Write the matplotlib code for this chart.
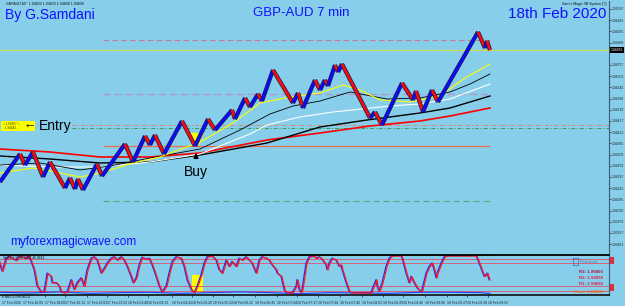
#!/usr/bin/env python3
import numpy as np
import matplotlib
matplotlib.use('Agg')
import matplotlib.pyplot as plt
import matplotlib.patheffects as pe
from matplotlib.patches import Rectangle, Polygon

# Renko closes (turning points) against bar number
renko_bars = [0, 20, 25, 33, 43, 50, 65, 70, 75, 78, 83, 97, 102, 125, 133, 145,
              150, 155, 164, 182, 195, 208, 215, 232, 235, 245, 250, 258, 262,
              273, 293, 298, 303, 315, 320, 325, 328, 335, 338, 342, 370, 375,
              382, 402, 413, 416, 423, 432, 438, 478, 485, 487, 490]
renko_close = [1.94172, 1.94312, 1.94257, 1.94322, 1.94197, 1.94272, 1.94142,
               1.94192, 1.94137, 1.94187, 1.94132, 1.94262, 1.94202, 1.94362,
               1.94272, 1.94402, 1.94357, 1.94407, 1.94312, 1.94477, 1.94352,
               1.94487, 1.94432, 1.94532, 1.94487, 1.94592, 1.94547, 1.94612,
               1.94577, 1.94732, 1.94567, 1.94617, 1.94542, 1.94682, 1.94632,
               1.94682, 1.94652, 1.94757, 1.94722, 1.94762, 1.94492, 1.94522,
               1.94457, 1.94667, 1.94582, 1.94627, 1.94522, 1.94632, 1.94572,
               1.94922, 1.94842, 1.94877, 1.94832]

# Moving averages
ma1_bars = [0, 33, 50, 80, 100, 133, 160, 200, 233, 260, 290, 320, 343, 360,
            380, 410, 440, 465, 490]
ma1_vals = [1.94217, 1.94242, 1.94227, 1.94197, 1.94217, 1.94267, 1.94297,
            1.94372, 1.94467, 1.94567, 1.94597, 1.94617, 1.94657, 1.94632,
            1.94582, 1.94572, 1.94602, 1.94692, 1.94762]
ma2_bars = [0, 40, 80, 110, 150, 200, 240, 270, 293, 320, 350, 387, 420, 450,
            470, 490]
ma2_vals = [1.94257, 1.94267, 1.94232, 1.94252, 1.94292, 1.94337, 1.94432,
            1.94512, 1.94552, 1.94577, 1.94622, 1.94587, 1.94592, 1.94622,
            1.94662, 1.94712]
ma3_bars = [0, 50, 100, 150, 200, 250, 267, 300, 333, 390, 420, 450, 490]
ma3_vals = [1.94257, 1.94247, 1.94247, 1.94272, 1.94312, 1.94412, 1.94457,
            1.94497, 1.94522, 1.94552, 1.94562, 1.94587, 1.94662]
ma4_bars = [0, 50, 100, 150, 200, 267, 320, 367, 420, 450, 490]
ma4_vals = [1.94302, 1.94287, 1.94267, 1.94272, 1.94307, 1.94367, 1.94447,
            1.94482, 1.94517, 1.94542, 1.94602]
ma5_bars = [0, 50, 100, 150, 200, 267, 320, 370, 420, 450, 490]
ma5_vals = [1.94337, 1.94322, 1.94297, 1.94297, 1.94317, 1.94382, 1.94417,
            1.94452, 1.94477, 1.94502, 1.94542]

# Horizontal levels
current_price = 1.94832
level_prices = [1.94882, 1.94612, 1.94457, 1.94442, 1.94352, 1.94077]
level_start = [103, 103, 72, 72, 103, 103]
level_end = [490, 490, 609, 609, 490, 490]
buy_bar, buy_price = 195, 1.94352

price_ticks = [1.95037, 1.94981, 1.94925, 1.94869, 1.94757, 1.94701,
               1.94645, 1.94589, 1.94533, 1.94477, 1.94421, 1.94365, 1.94309,
               1.94253, 1.94197, 1.94141, 1.94085, 1.94029, 1.93973, 1.93917,
               1.93861]

# Oscillator
osc_bars = [0, 3, 7, 10, 13, 17, 20, 23, 27, 30, 35, 38, 42, 45, 47, 48, 52,
            53, 57, 60, 62, 65, 68, 72, 75, 78, 82, 85, 88, 92, 95, 98, 102,
            105, 108, 112, 115, 118, 122, 125, 128, 132, 134, 137, 140, 143,
            147, 150, 153, 157, 160, 163, 167, 170, 173, 177, 182, 185, 188,
            192, 195, 198, 202, 205, 208, 213, 217, 220, 223, 227, 230, 233,
            237, 240, 243, 247, 250, 253, 257, 260, 263, 267, 270, 273, 277,
            278, 282, 285, 287, 293, 297, 298, 300, 302, 303, 305, 307, 310,
            315, 317, 320, 323, 327, 328, 330, 333, 337, 340, 342, 343, 347,
            350, 352, 372, 373, 377, 378, 380, 383, 387, 390, 393, 402, 403,
            407, 410, 412, 415, 418, 422, 423, 427, 430, 433, 435, 437, 438,
            442, 445, 448, 477, 480, 483, 485, 487, 488, 490]
osc_vals = [84, 58, 93, 99, 93, 87, 99, 97, 93, 99, 62, 18, 2, 4, 35, 53, 44,
            27, 27, 18, 2, 0, 2, 35, 9, 27, 40, 18, 62, 93, 97, 88, 53,
            66, 80, 93, 97, 88, 97, 88, 71, 44, 27, 40, 75, 96,
            90, 93, 75, 44, 18, 2, 18, 53, 84, 97, 93, 71, 35,
            9, 0, 18, 49, 80, 97, 99, 88, 62, 53, 88, 71, 84,
            71, 93, 88, 97, 88, 80, 53, 88, 97, 93, 88, 75, 62,
            53, 44, 9, 0, 0, 18, 35, 9, 0, 9, 44, 80, 97,
            99, 93, 97, 90, 75, 62, 80, 93, 88, 71, 75, 62, 27,
            4, 0, 0, 9, 35, 18, 4, 27, 71, 93, 100, 100, 93,
            53, 27, 44, 27, 13, 2, 9, 53, 71, 80, 62, 40, 53,
            80, 97, 100, 100, 80, 58, 44, 49, 53, 35]
osc_levels = [92, 81, 19, 6]
low_bars = [0, 30, 60, 90, 120, 150, 180, 210, 240, 270, 300, 330, 360, 390,
            420, 450, 480, 490]
low_vals = [2, 0, 3, -1, 1, 2, -1, 1, 3, 1, -2, 1, 0, -1, 2, 2, 1, -1]

tick_bars = [2, 23, 45, 65, 87, 107, 128, 148, 172, 192, 213, 233, 255, 277,
             297, 318, 340, 362, 383, 403, 425, 447, 467, 488]
time_labels = ['17 Feb 2020', '17 Feb 16:03', '17 Feb 18:09', '17 Feb 20:13',
               '17 Feb 22:03', '17 Feb 23:52', '18 Feb 01:48', '18 Feb 03:13',
               '18 Feb 04:41', '18 Feb 05:20', '18 Feb 05:52', '18 Feb 06:22',
               '18 Feb 06:45', '18 Feb 07:04', '18 Feb 07:17', '18 Feb 07:34',
               '18 Feb 07:46', '18 Feb 08:03', '18 Feb 08:29', '18 Feb 08:46',
               '18 Feb 09:06', '18 Feb 09:27', '18 Feb 09:39', '18 Feb 09:52']

pivot_labels = ['R3: 1.95003', 'R2: 1.94992', 'R1: 1.94883', 'Pivot: 1.94638']
pivot_colors = ['#b0103a', '#e0204a', '#e0204a', '#ff6a10']

BG = '#87ceeb'
plt.rcParams['font.family'] = ['Liberation Sans', 'DejaVu Sans']


def fx(x):
    return x / 625.0


def fy(y):
    return 1 - y / 306.0


fig = plt.figure(figsize=(6.25, 3.06), dpi=100, facecolor=BG)

# ---- main price panel
ax = fig.add_axes([0.0, 53 / 306, 609 / 625, 252 / 306])
ax.set_facecolor(BG)
ax.set_xlim(0, 609)
ax.set_ylim(1.93817, 1.95077)
for s in ['top', 'left', 'bottom']:
    ax.spines[s].set_visible(False)
ax.spines['right'].set_color('#3c5a70')
ax.spines['right'].set_linewidth(0.8)
ax.set_xticks([])
ax.yaxis.tick_right()
ax.set_yticks(price_ticks)
ax.set_yticklabels(['%.5f' % p for p in price_ticks])
ax.tick_params(axis='y', labelsize=2.4, length=1.2, pad=0.6, width=0.5,
               colors='#222222')

# levels
ax.hlines(level_prices[0], level_start[0], level_end[0], colors='#c8789a',
          linestyles=(0, (5, 3)), lw=0.8)
ax.axhline(current_price, color='#d2dc5a', lw=0.9)
ax.hlines(level_prices[1], level_start[1], level_end[1], colors='#b496c8',
          linestyles=(0, (5, 3)), lw=1.0)
ax.hlines(level_prices[2], level_start[2], level_end[2], colors='#e0806a',
          linestyles=(0, (4, 2, 1, 2)), lw=0.7)
ax.hlines(level_prices[3], level_start[3], level_end[3], colors='#3c9c50',
          linestyles=(0, (4, 2, 1, 2)), lw=0.7)
ax.hlines(level_prices[4], level_start[4], level_end[4], colors='#e8704a',
          lw=0.9)
ax.hlines(level_prices[5], level_start[5], level_end[5], colors='#5aaa88',
          linestyles=(0, (5, 3)), lw=0.9)

# moving averages
ax.plot(ma5_bars, ma5_vals, color='#ff0000', lw=1.2)
ax.plot(ma4_bars, ma4_vals, color='#000000', lw=1.0)
ax.plot(ma3_bars, ma3_vals, color='#ffffff', lw=0.8)
ax.plot(ma2_bars, ma2_vals, color='#000000', lw=0.6)
ax.plot(ma1_bars, ma1_vals, color='#ffff00', lw=0.8)

# buy highlight
hl = Polygon([(buy_bar - 5, buy_price + 0.00066), (buy_bar + 9, buy_price + 0.00066),
              (buy_bar + 4, buy_price + 0.00005), (buy_bar - 1, buy_price + 0.00005)],
             closed=True, facecolor='#ffff00', edgecolor='none', zorder=2)
ax.add_patch(hl)

# renko bricks
for i in range(len(renko_bars) - 1):
    up = renko_close[i + 1] > renko_close[i]
    c = '#0a0aff' if up else '#ff0a0a'
    ax.plot(renko_bars[i:i + 2], renko_close[i:i + 2], color=c, lw=1.9,
            solid_capstyle='butt', zorder=3,
            path_effects=[pe.Stroke(linewidth=3.0, foreground='#1b1b50'),
                          pe.Normal()])

ax.annotate('', xy=(buy_bar + 1, buy_price - 0.0002),
            xytext=(buy_bar + 1, buy_price - 0.00075),
            arrowprops=dict(arrowstyle='-|>', color='black', lw=1.3,
                            mutation_scale=6))
ax.text(buy_bar + 1, buy_price - 0.00128, 'Buy', fontsize=10, ha='center',
        va='center', color='black')

ax.text(1.003, current_price, '%.5f' % current_price,
        transform=ax.get_yaxis_transform(), fontsize=2.4, color='white',
        ha='left', va='center',
        bbox=dict(facecolor='black', edgecolor='none', pad=0.5))

# ---- oscillator panel
ax2 = fig.add_axes([0.0, 11 / 306, 609 / 625, 40 / 306])
ax2.set_facecolor(BG)
ax2.set_xlim(0, 609)
ax2.set_ylim(-5.4, 102.7)
ax2.spines['left'].set_visible(False)
ax2.spines['top'].set_linewidth(1.3)
ax2.spines['bottom'].set_linewidth(1.1)
ax2.spines['right'].set_color('#3c5a70')
ax2.spines['right'].set_linewidth(0.8)
ax2.set_yticks([])
ax2.set_xticks(tick_bars)
ax2.set_xticklabels(time_labels)
ax2.tick_params(axis='x', labelsize=2.4, length=1.2, pad=3.0, width=0.5,
                colors='#222222')
for lab in ax2.get_xticklabels():
    lab.set_ha('left')

for lv in osc_levels:
    ax2.axhline(lv, color='#e0506a', lw=0.6)
ax2.hlines(104, 103, 490, colors='#2a8a3a', linestyles=(0, (3, 2)), lw=0.8,
           clip_on=False)
ax2.add_patch(Rectangle((192, 0), 11, 48, facecolor='#ffff00',
                        edgecolor='none', zorder=1))
ax2.plot(low_bars, low_vals, color='#2040ff', lw=0.8)
ax2.plot(osc_bars, osc_vals, color='#ff1a1a', lw=0.9,
         path_effects=[pe.Stroke(offset=(-0.7, 0.3), linewidth=0.9,
                                 foreground='#1a2cff'),
                       pe.Normal()])

# ---- texts
fig.text(fx(6), fy(4), 'GBPAUD,M7  1.94832 1.94833 1.94808 1.94838',
         fontsize=2.6, color='#111111', va='center')
fig.text(fx(607), fy(4), "Sam's Magic 3B System [?]", fontsize=2.6,
         color='#111111', va='center', ha='right')
fig.text(fx(5), fy(15), 'By G.Samdani', fontsize=10, color='#1010ff',
         va='center')
fig.text(fx(301), fy(13), 'GBP-AUD 7 min', fontsize=9.5, color='#1010ff',
         va='center', ha='center')
fig.text(fx(557), fy(14), '18th Feb 2020', fontsize=11, color='#1010ff',
         va='center', ha='center')
fig.text(fx(10), fy(242), 'myforexmagicwave.com', fontsize=8.5,
         color='#1010ff', va='center')

fig.patches.append(Rectangle((fx(1), fy(131)), fx(34), 10 / 306,
                             transform=fig.transFigure, facecolor='#ffff00',
                             edgecolor='none'))
fig.text(fx(3), fy(126), '= 1.94457 =\n- 1.94442 -', fontsize=2.2,
         color='#333300', va='center', linespacing=1.0)
fig.text(fx(30), fy(126), '\u2190', fontsize=9, fontweight='bold',
         color='black', va='center', ha='center')
fig.text(fx(39), fy(126), 'Entry', fontsize=10, color='black', va='center')

fig.text(fx(3), fy(258), 'Sto(8,3,3) 36.3832 46.8661', fontsize=2.4,
         color='#111111', va='center')
fig.text(fx(3), fy(296.6), 'TMA% 0.0088 0.0012', fontsize=2.0,
         color='#111111', va='center')

for i, (t, c) in enumerate(zip(pivot_labels, pivot_colors)):
    fig.text(fx(603), fy(272 + [0, 6, 12, 20][i]), t, fontsize=3.2,
             color=c, fontweight='bold', ha='right', va='center')
fig.patches.append(Rectangle((fx(573), fy(265)), fx(5), 7 / 306,
                             transform=fig.transFigure, facecolor='none',
                             edgecolor='#4060c0', lw=0.5))
fig.text(fx(580), fy(262), 'Pivot levels', fontsize=2.4, color='#607080',
         va='center')
for y0 in [257, 284]:
    fig.patches.append(Rectangle((fx(610), fy(y0 + 7)), fx(4), 7 / 306,
                                 transform=fig.transFigure,
                                 facecolor='#e03040', edgecolor='none'))

plt.savefig('out.png', dpi=100, facecolor=BG)
plt.close()
